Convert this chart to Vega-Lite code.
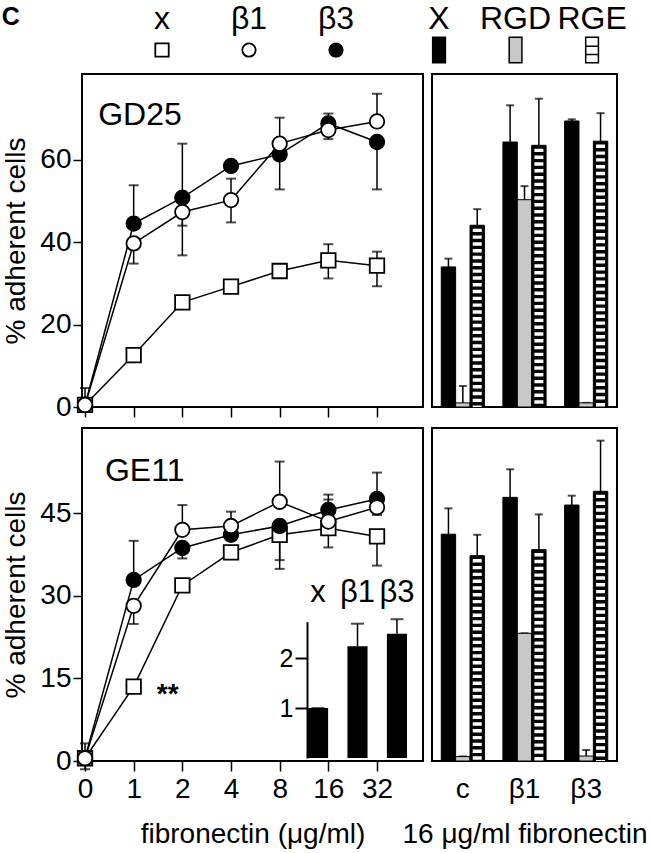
{
"$schema":"https://vega.github.io/schema/vega-lite/v6.json",
"background":"white",
"padding":{"left":1,"top":0,"right":0,"bottom":0},
"title":{"text":"C","anchor":"start","frame":"bounds","fontSize":25,"fontWeight":"bold","font":"Liberation Sans","color":"black","offset":-30},
"config":{"font":"Liberation Sans","view":{"stroke":"black","strokeWidth":2},"axis":{"grid":false,"labelColor":"black","titleColor":"black","tickColor":"black","domainColor":"black","titleFontWeight":"normal","labelFont":"Liberation Sans","titleFont":"Liberation Sans"}},
"resolve":{"scale":{"shape":"independent","fill":"independent"}},
"datasets":{
"lines":[
{"cell":"GD25","s":"x","i":0,"y":0.5,"lo":0.5,"hi":4.6},
{"cell":"GD25","s":"x","i":1,"y":12.6,"lo":12.6,"hi":12.6},
{"cell":"GD25","s":"x","i":2,"y":25.4,"lo":25.4,"hi":25.4},
{"cell":"GD25","s":"x","i":3,"y":29.2,"lo":28.4,"hi":30.4},
{"cell":"GD25","s":"x","i":4,"y":33.0,"lo":32.2,"hi":33.6},
{"cell":"GD25","s":"x","i":5,"y":35.6,"lo":31.2,"hi":39.5},
{"cell":"GD25","s":"x","i":6,"y":34.3,"lo":29.3,"hi":37.7},
{"cell":"GD25","s":"β3","i":0,"y":0.5,"lo":0.5,"hi":0.5},
{"cell":"GD25","s":"β3","i":1,"y":44.5,"lo":44.5,"hi":53.8},
{"cell":"GD25","s":"β3","i":2,"y":50.8,"lo":44.0,"hi":63.9},
{"cell":"GD25","s":"β3","i":3,"y":58.5,"lo":58.5,"hi":58.5},
{"cell":"GD25","s":"β3","i":4,"y":61.3,"lo":52.8,"hi":61.3},
{"cell":"GD25","s":"β3","i":5,"y":68.8,"lo":68.8,"hi":71.2},
{"cell":"GD25","s":"β3","i":6,"y":64.3,"lo":52.8,"hi":64.3},
{"cell":"GD25","s":"β1","i":0,"y":0.5,"lo":0.5,"hi":0.5},
{"cell":"GD25","s":"β1","i":1,"y":39.7,"lo":34.8,"hi":39.7},
{"cell":"GD25","s":"β1","i":2,"y":47.3,"lo":36.8,"hi":47.3},
{"cell":"GD25","s":"β1","i":3,"y":50.2,"lo":44.8,"hi":55.4},
{"cell":"GD25","s":"β1","i":4,"y":63.9,"lo":63.9,"hi":70.2},
{"cell":"GD25","s":"β1","i":5,"y":67.2,"lo":65.0,"hi":67.2},
{"cell":"GD25","s":"β1","i":6,"y":69.3,"lo":69.3,"hi":76.0},
{"cell":"GE11","s":"x","i":0,"y":0.5,"lo":-1.5,"hi":3.2},
{"cell":"GE11","s":"x","i":1,"y":13.5,"lo":13.5,"hi":13.5},
{"cell":"GE11","s":"x","i":2,"y":31.9,"lo":31.9,"hi":31.9},
{"cell":"GE11","s":"x","i":3,"y":37.9,"lo":37.9,"hi":37.9},
{"cell":"GE11","s":"x","i":4,"y":41.1,"lo":36.5,"hi":41.1},
{"cell":"GE11","s":"x","i":5,"y":42.3,"lo":38.8,"hi":42.3},
{"cell":"GE11","s":"x","i":6,"y":40.8,"lo":35.5,"hi":40.8},
{"cell":"GE11","s":"β3","i":0,"y":0.5,"lo":0.5,"hi":0.5},
{"cell":"GE11","s":"β3","i":1,"y":32.9,"lo":32.9,"hi":40.0},
{"cell":"GE11","s":"β3","i":2,"y":38.7,"lo":36.8,"hi":38.7},
{"cell":"GE11","s":"β3","i":3,"y":41.1,"lo":41.1,"hi":41.1},
{"cell":"GE11","s":"β3","i":4,"y":42.7,"lo":34.9,"hi":42.7},
{"cell":"GE11","s":"β3","i":5,"y":45.6,"lo":45.6,"hi":48.4},
{"cell":"GE11","s":"β3","i":6,"y":47.6,"lo":47.6,"hi":52.4},
{"cell":"GE11","s":"β1","i":0,"y":0.5,"lo":0.5,"hi":0.5},
{"cell":"GE11","s":"β1","i":1,"y":28.2,"lo":24.9,"hi":28.2},
{"cell":"GE11","s":"β1","i":2,"y":42.0,"lo":42.0,"hi":46.5},
{"cell":"GE11","s":"β1","i":3,"y":42.7,"lo":42.7,"hi":45.3},
{"cell":"GE11","s":"β1","i":4,"y":47.1,"lo":47.1,"hi":54.4},
{"cell":"GE11","s":"β1","i":5,"y":43.5,"lo":43.5,"hi":47.5},
{"cell":"GE11","s":"β1","i":6,"y":46.1,"lo":44.7,"hi":46.1}
],
"bars":[
{"cell":"GD25","g":"c","t":"X","v":34.0,"e":36.0},
{"cell":"GD25","g":"c","t":"RGD","v":1.0,"e":5.1},
{"cell":"GD25","g":"c","t":"RGE","v":44.1,"e":48.0},
{"cell":"GD25","g":"β1","t":"X","v":64.3,"e":73.2},
{"cell":"GD25","g":"β1","t":"RGD","v":50.3,"e":53.6},
{"cell":"GD25","g":"β1","t":"RGE","v":63.5,"e":74.8},
{"cell":"GD25","g":"β3","t":"X","v":69.4,"e":69.8},
{"cell":"GD25","g":"β3","t":"RGD","v":1.0,"e":1.0},
{"cell":"GD25","g":"β3","t":"RGE","v":64.5,"e":71.3},
{"cell":"GE11","g":"c","t":"X","v":41.2,"e":45.9},
{"cell":"GE11","g":"c","t":"RGD","v":0.8,"e":0.8},
{"cell":"GE11","g":"c","t":"RGE","v":37.3,"e":41.1},
{"cell":"GE11","g":"β1","t":"X","v":47.9,"e":53.0},
{"cell":"GE11","g":"β1","t":"RGD","v":23.2,"e":23.2},
{"cell":"GE11","g":"β1","t":"RGE","v":38.4,"e":44.8},
{"cell":"GE11","g":"β3","t":"X","v":46.5,"e":48.2},
{"cell":"GE11","g":"β3","t":"RGD","v":0.9,"e":2.0},
{"cell":"GE11","g":"β3","t":"RGE","v":49.0,"e":58.2}
],
"inset":[
{"g":"x","v":1.0,"e":1.0},
{"g":"β1","v":2.24,"e":2.69},
{"g":"β3","v":2.49,"e":2.78}
]
},
"columns":2,
"bounds":"flush",
"align":"each",
"spacing":{"row":21,"column":9},
"concat":[
{
"width":341,"height":53,"view":{"stroke":null},
"data":{"values":[{"s":"x"},{"s":"β1"},{"s":"β3"}]},
"encoding":{"x":{"field":"s","type":"nominal","scale":{"type":"point","domain":["x","β1","β3"],"padding":0.96,"align":0.479},"axis":null}},
"layer":[
{"mark":{"type":"text","fontSize":32,"baseline":"middle","color":"black"},"encoding":{"y":{"datum":"lab","type":"nominal","scale":{"type":"point","domain":["lab","sym"],"padding":0.355,"align":0.864},"axis":null},"text":{"field":"s"}}},
{"mark":{"type":"point","opacity":1,"strokeWidth":1.8,"size":180,"stroke":"black"},"encoding":{"y":{"datum":"sym","type":"nominal"},"shape":{"field":"s","type":"nominal","scale":{"domain":["x","β1","β3"],"range":["square","circle","circle"]},"legend":null},"fill":{"field":"s","type":"nominal","scale":{"domain":["x","β1","β3"],"range":["white","white","black"]},"legend":null}}}
]
},
{
"width":185,"height":53,"view":{"stroke":null},
"data":{"values":[{"t":"X"},{"t":"RGD"},{"t":"RGE"}]},
"encoding":{"x":{"field":"t","type":"nominal","scale":{"type":"point","domain":["X","RGD","RGE"],"padding":0.209,"align":0.22},"axis":null}},
"layer":[
{"mark":{"type":"text","fontSize":32,"baseline":"middle","color":"black"},"encoding":{"y":{"datum":"lab","type":"nominal","scale":{"type":"point","domain":["lab","sym"],"padding":0.355,"align":0.864},"axis":null},"text":{"field":"t"}}},
{"mark":{"type":"point","opacity":1,"strokeWidth":1.5,"size":650,"stroke":"black"},"encoding":{"y":{"datum":"sym","type":"nominal"},"shape":{"field":"t","type":"nominal","scale":{"domain":["X","RGD","RGE"],"range":["M-0.5,-1H0.5V1H-0.5Z","M-0.5,-1H0.5V1H-0.5Z","M-0.5,-1H0.5V1H-0.5Z M-0.5,-0.3H0.5 M-0.5,0.35H0.5"]},"legend":null},"fill":{"field":"t","type":"nominal","scale":{"domain":["X","RGD","RGE"],"range":["black","#c8c8c8","white"]},"legend":null}}}
]
},
{
"width":341,"height":333,
"layer":[
{
"data":{"name":"lines"},
"transform":[{"filter":"datum.cell === 'GD25'"}],
"encoding":{"x":{"field":"i","type":"quantitative","scale":{"domain":[-0.062,6.945],"nice":false,"zero":false},"axis":{"values":[0,1,2,3,4,5,6],"labels":false,"domain":false,"tickSize":10,"tickWidth":1.5,"title":null}}},
"layer":[
{"mark":{"type":"rule","color":"black","strokeWidth":1.5},"encoding":{"y":{"field":"lo","type":"quantitative","scale":{"domain":[0,80.8],"nice":false,"zero":false},"axis":{"values":[0,20,40,60],"title":"% adherent cells","titleFontSize":28,"labelFontSize":28,"tickSize":9,"tickWidth":1.5,"labelPadding":2,"titlePadding":9,"domain":false}},"y2":{"field":"hi"}}},
{"mark":{"type":"tick","orient":"horizontal","color":"black","thickness":2,"size":10},"encoding":{"y":{"field":"lo","type":"quantitative"}}},
{"mark":{"type":"tick","orient":"horizontal","color":"black","thickness":2,"size":10},"encoding":{"y":{"field":"hi","type":"quantitative"}}},
{"mark":{"type":"line","color":"black","strokeWidth":1.5},"encoding":{"y":{"field":"y","type":"quantitative"},"detail":{"field":"s","type":"nominal"}}},
{"mark":{"type":"point","opacity":1,"strokeWidth":1.8,"size":210,"stroke":"black"},"encoding":{"y":{"field":"y","type":"quantitative"},"shape":{"field":"s","type":"nominal","scale":{"domain":["x","β1","β3"],"range":["square","circle","circle"]},"legend":null},"fill":{"field":"s","type":"nominal","scale":{"domain":["x","β1","β3"],"range":["white","white","black"]},"legend":null}}}
]
},
{"data":{"values":[{"lab":"GD25"}]},"mark":{"type":"text","fontSize":32,"align":"left","baseline":"middle","color":"black"},"encoding":{"x":{"datum":0.27},"y":{"datum":70.9},"text":{"field":"lab"}}}
]
},
{
"width":185,"height":333,
"data":{"name":"bars"},
"transform":[{"filter":"datum.cell === 'GD25'"}],
"encoding":{"x":{"field":"g","type":"nominal","scale":{"domain":["c","β1","β3"],"paddingInner":0.3,"paddingOuter":0.15},"axis":null},"xOffset":{"field":"t","type":"nominal","scale":{"domain":["X","RGD","RGE"],"paddingInner":0,"paddingOuter":0}}},
"layer":[
{"mark":{"type":"rule","color":"black","strokeWidth":1.5},"encoding":{"y":{"field":"v","type":"quantitative","scale":{"domain":[0,80.8],"nice":false,"zero":false},"axis":null},"y2":{"field":"e"}}},
{"mark":{"type":"tick","orient":"horizontal","color":"black","thickness":2,"size":8},"encoding":{"y":{"field":"e","type":"quantitative"}}},
{"mark":{"type":"bar","stroke":"black","strokeWidth":1},"encoding":{"y":{"field":"v","type":"quantitative"},"fill":{"field":"t","type":"nominal","scale":{"domain":["X","RGD","RGE"],"range":["black","#c8c8c8","black"]},"legend":null}}},
{"transform":[{"filter":"datum.t === 'RGE'"}],"mark":{"type":"rule","color":"white","strokeWidth":9,"strokeDash":[3.4,3.4],"strokeDashOffset":3.4,"strokeCap":"butt"},"encoding":{"y":{"field":"v","type":"quantitative"},"y2":{"datum":0}}}
]
},
{
"width":341,"height":333,
"resolve":{"scale":{"x":"independent","y":"independent"},"axis":{"x":"independent","y":"independent"}},
"layer":[
{
"layer":[
{
"data":{"name":"lines"},
"transform":[{"filter":"datum.cell === 'GE11'"}],
"encoding":{"x":{"field":"i","type":"quantitative","scale":{"domain":[-0.062,6.945],"nice":false,"zero":false},"axis":{"values":[0,1,2,3,4,5,6],"labelExpr":"['0','1','2','4','8','16','32'][datum.value]","labelFontSize":28,"labelPadding":4,"domain":false,"tickSize":10,"tickWidth":1.5,"title":"fibronectin (μg/ml)","titleFontSize":28,"titlePadding":17}}},
"layer":[
{"mark":{"type":"rule","color":"black","strokeWidth":1.5},"encoding":{"y":{"field":"lo","type":"quantitative","scale":{"domain":[0,60.5],"nice":false,"zero":false},"axis":{"orient":"left","values":[0,15,30,45],"title":"% adherent cells","titleFontSize":28,"labelFontSize":28,"tickSize":9,"tickWidth":1.5,"labelPadding":2,"titlePadding":9,"domain":false}},"y2":{"field":"hi"}}},
{"mark":{"type":"tick","orient":"horizontal","color":"black","thickness":2,"size":10},"encoding":{"y":{"field":"lo","type":"quantitative"}}},
{"mark":{"type":"tick","orient":"horizontal","color":"black","thickness":2,"size":10},"encoding":{"y":{"field":"hi","type":"quantitative"}}},
{"mark":{"type":"line","color":"black","strokeWidth":1.5},"encoding":{"y":{"field":"y","type":"quantitative"},"detail":{"field":"s","type":"nominal"}}},
{"mark":{"type":"point","opacity":1,"strokeWidth":1.8,"size":210,"stroke":"black"},"encoding":{"y":{"field":"y","type":"quantitative"},"shape":{"field":"s","type":"nominal","scale":{"domain":["x","β1","β3"],"range":["square","circle","circle"]},"legend":null},"fill":{"field":"s","type":"nominal","scale":{"domain":["x","β1","β3"],"range":["white","white","black"]},"legend":null}}}
]
},
{"data":{"values":[{"lab":"GE11"}]},"mark":{"type":"text","fontSize":32,"align":"left","baseline":"middle","color":"black"},"encoding":{"x":{"datum":0.41},"y":{"datum":52.7},"text":{"field":"lab"}}},
{"data":{"values":[{"lab":"**"}]},"mark":{"type":"text","fontSize":28,"fontWeight":"bold","align":"center","baseline":"alphabetic","color":"black"},"encoding":{"x":{"datum":1.7},"y":{"datum":10.5},"text":{"field":"lab"}}}
]
},
{
"data":{"name":"inset"},
"encoding":{
"x":{"field":"g","type":"nominal","scale":{"domain":["x","β1","β3"],"range":[226,325],"paddingInner":0.49,"paddingOuter":0},"axis":{"orient":"top","offset":-182,"labelFontSize":31,"labelAngle":0,"ticks":false,"tickSize":0,"domain":false,"labelPadding":2,"title":null}},
"y":{"field":"v","type":"quantitative","scale":{"domain":[0,2.73],"range":[330,193.7],"nice":false,"zero":false},"axis":{"orient":"left","offset":-225,"values":[1,2],"labelFontSize":25,"tickSize":12,"tickWidth":2,"domainWidth":2,"labelPadding":2,"title":null}}
},
"layer":[
{"mark":{"type":"bar","color":"black"}},
{"mark":{"type":"rule","color":"black","strokeWidth":1.5},"encoding":{"y2":{"field":"e"}}},
{"mark":{"type":"tick","orient":"horizontal","color":"black","thickness":2,"size":13},"encoding":{"y":{"field":"e","type":"quantitative"}}}
]
}
]
},
{
"width":185,"height":333,
"data":{"name":"bars"},
"transform":[{"filter":"datum.cell === 'GE11'"}],
"encoding":{"x":{"field":"g","type":"nominal","scale":{"domain":["c","β1","β3"],"paddingInner":0.3,"paddingOuter":0.15},"axis":{"labelFontSize":28,"labelAngle":0,"tickSize":10,"tickColor":"transparent","domain":false,"labelPadding":4,"title":"16 μg/ml fibronectin","titleFontSize":28,"titlePadding":17}},"xOffset":{"field":"t","type":"nominal","scale":{"domain":["X","RGD","RGE"],"paddingInner":0,"paddingOuter":0}}},
"layer":[
{"mark":{"type":"rule","color":"black","strokeWidth":1.5},"encoding":{"y":{"field":"v","type":"quantitative","scale":{"domain":[0,60.5],"nice":false,"zero":false},"axis":null},"y2":{"field":"e"}}},
{"mark":{"type":"tick","orient":"horizontal","color":"black","thickness":2,"size":8},"encoding":{"y":{"field":"e","type":"quantitative"}}},
{"mark":{"type":"bar","stroke":"black","strokeWidth":1},"encoding":{"y":{"field":"v","type":"quantitative"},"fill":{"field":"t","type":"nominal","scale":{"domain":["X","RGD","RGE"],"range":["black","#c8c8c8","black"]},"legend":null}}},
{"transform":[{"filter":"datum.t === 'RGE'"}],"mark":{"type":"rule","color":"white","strokeWidth":9,"strokeDash":[3.4,3.4],"strokeDashOffset":3.4,"strokeCap":"butt"},"encoding":{"y":{"field":"v","type":"quantitative"},"y2":{"datum":0}}}
]
}
]
}
